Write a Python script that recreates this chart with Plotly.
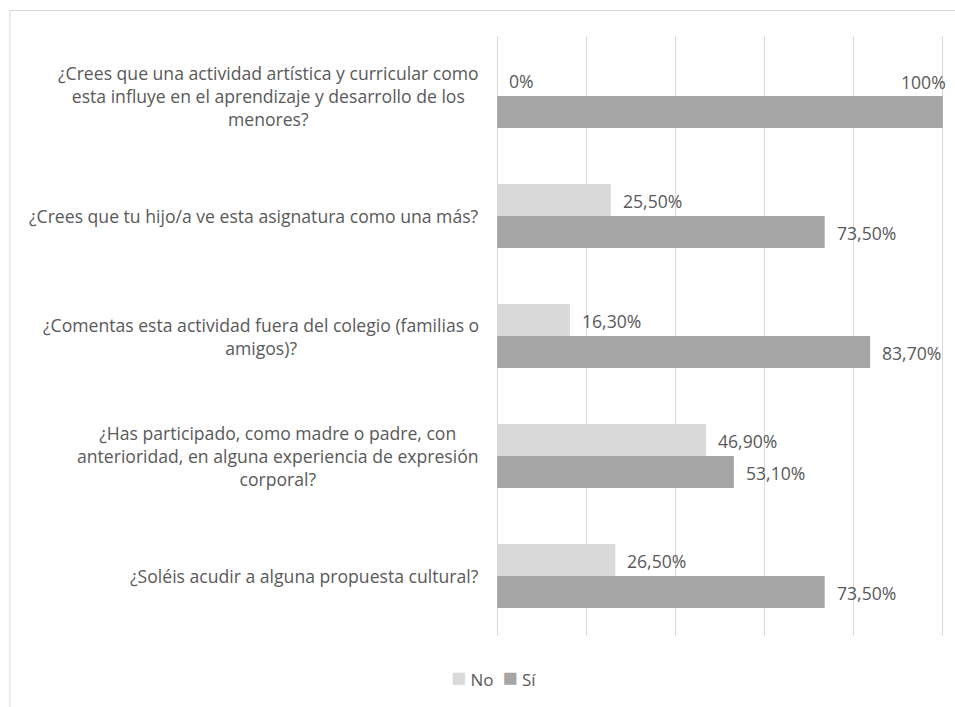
import plotly.graph_objects as go

categories = [
    "¿Crees que una actividad artística y curricular como<br>esta influye en el aprendizaje y desarrollo de los<br>menores?",
    "¿Crees que tu hijo/a ve esta asignatura como una más?",
    "¿Comentas esta actividad fuera del colegio (familias o<br>amigos)?",
    "¿Has participado, como madre o padre, con<br>anterioridad, en alguna experiencia de expresión<br>corporal?",
    "¿Soléis acudir a alguna propuesta cultural?",
]
series_names = ["No", "Sí"]
no_vals = [0, 25.5, 16.3, 46.9, 26.5]
si_vals = [100, 73.5, 83.7, 53.1, 73.5]
no_labels = ["0%", "25,50%", "16,30%", "46,90%", "26,50%"]
si_labels = ["100%", "73,50%", "83,70%", "53,10%", "73,50%"]
x_ticks = [0, 20, 40, 60, 80, 100]

FONT = "Open Sans"
TXT = "#595959"
C_NO = "#D9D9D9"
C_SI = "#A5A5A5"
colors = [C_NO, C_SI]

fig = go.Figure()
fig.add_trace(go.Bar(y=categories, x=no_vals, name=series_names[0], orientation="h",
                     marker=dict(color=C_NO, line=dict(width=0)), showlegend=False))
fig.add_trace(go.Bar(y=categories, x=si_vals, name=series_names[1], orientation="h",
                     marker=dict(color=C_SI, line=dict(width=0)), showlegend=False))

annotations = []
# category labels (centered multi-line)
for c in categories:
    annotations.append(dict(x=0, xref="x", y=c, yref="y", text=c, showarrow=False,
                            xanchor="right", yanchor="middle", align="center", xshift=-16,
                            font=dict(family=FONT, size=17.6, color=TXT)))
# data labels
for vals, labs, ys in ((no_vals, no_labels, 16), (si_vals, si_labels, -16)):
    for c, v, t in zip(categories, vals, labs):
        if v >= 95:
            annotations.append(dict(x=v, xref="x", y=c, yref="y", text=t, showarrow=False,
                                    xanchor="right", yanchor="middle", xshift=5, yshift=ys + 30,
                                    font=dict(family=FONT, size=17.6, color=TXT)))
        else:
            annotations.append(dict(x=v, xref="x", y=c, yref="y", text=t, showarrow=False,
                                    xanchor="left", yanchor="middle", xshift=10, yshift=ys - 1,
                                    font=dict(family=FONT, size=17.6, color=TXT)))

# legend (built from the series names and colours)
legend_parts = []
for name, col in zip(series_names, colors):
    legend_parts.append(f'<span style="color:{col};font-size:25px">■</span> {name}')
annotations.append(dict(x=-0.004, xref="paper", y=-0.0667, yref="paper",
                        text="  ".join(legend_parts), showarrow=False,
                        xanchor="center", yanchor="middle",
                        font=dict(family=FONT, size=17, color=TXT)))

fig.update_layout(
    width=955, height=707,
    margin=dict(l=495, r=10, t=36, b=71),
    paper_bgcolor="white", plot_bgcolor="white",
    barmode="group", bargap=0.467, bargroupgap=0,
    font=dict(family=FONT, size=15, color=TXT),
    showlegend=False,
    xaxis=dict(range=[-0.5, 100.5], tickvals=x_ticks, showticklabels=False, showgrid=True,
               gridcolor="#D9D9D9", gridwidth=1, zeroline=False, showline=False, fixedrange=True),
    yaxis=dict(autorange="reversed", showticklabels=False, showgrid=False, zeroline=False,
               showline=False, fixedrange=True),
    annotations=annotations,
    shapes=[dict(type="rect", xref="paper", yref="paper", x0=-1.078, x1=1.1, y0=-0.2, y1=1.0425,
                 line=dict(color="#D9D9D9", width=1), fillcolor="rgba(0,0,0,0)", layer="below")],
)

fig.write_html("out.html")
